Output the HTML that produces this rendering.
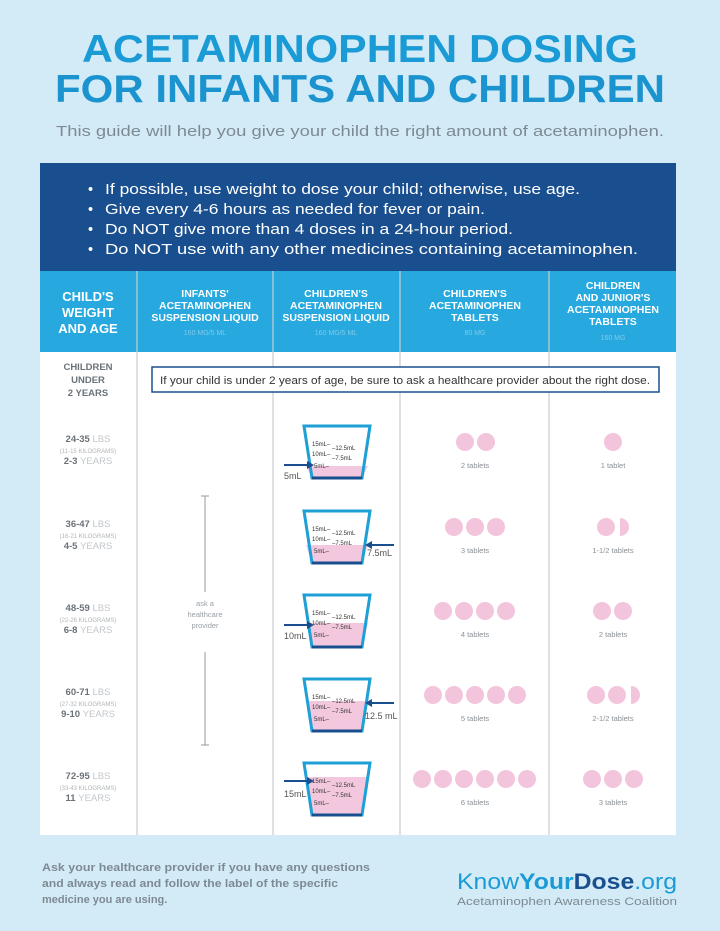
<!DOCTYPE html>
<html><head><meta charset="utf-8"><style>
html,body{margin:0;padding:0;background:#d3ebf7;}
svg{display:block;font-family:"Liberation Sans",sans-serif;}
</style></head><body>
<svg width="720" height="931" viewBox="0 0 720 931" xmlns="http://www.w3.org/2000/svg">
<rect width="720" height="931" fill="#d3ebf7"/>
<text x="360" y="62" text-anchor="middle" font-size="39" font-weight="bold" fill="#1b9bd5" textLength="556" lengthAdjust="spacingAndGlyphs">ACETAMINOPHEN DOSING</text>
<text x="360" y="102" text-anchor="middle" font-size="39" font-weight="bold" fill="#1b93cf" textLength="610" lengthAdjust="spacingAndGlyphs">FOR INFANTS AND CHILDREN</text>
<text x="360" y="136" text-anchor="middle" font-size="15" fill="#7d8a93" textLength="608" lengthAdjust="spacingAndGlyphs">This guide will help you give your child the right amount of acetaminophen.</text>
<rect x="40" y="163" width="636" height="108" fill="#1a4f8f"/>
<g fill="#fff" font-size="14.5">
<text x="88" y="194">•</text><text x="105" y="194" textLength="475" lengthAdjust="spacingAndGlyphs">If possible, use weight to dose your child; otherwise, use age.</text>
<text x="88" y="214">•</text><text x="105" y="214" textLength="380" lengthAdjust="spacingAndGlyphs">Give every 4-6 hours as needed for fever or pain.</text>
<text x="88" y="234">•</text><text x="105" y="234" textLength="408" lengthAdjust="spacingAndGlyphs">Do NOT give more than 4 doses in a 24-hour period.</text>
<text x="88" y="254">•</text><text x="105" y="254" textLength="533" lengthAdjust="spacingAndGlyphs">Do NOT use with any other medicines containing acetaminophen.</text>
</g>
<rect x="40" y="271" width="636" height="81" fill="#27a8de"/>
<rect x="40" y="352" width="636" height="483" fill="#fff"/>
<g stroke="#c9cdd0" stroke-width="1.2">
<line x1="137" y1="271" x2="137" y2="835"/><line x1="273" y1="271" x2="273" y2="835"/>
<line x1="400" y1="271" x2="400" y2="835"/><line x1="549" y1="271" x2="549" y2="835"/>
</g>
<g fill="#fff" font-weight="bold" text-anchor="middle">
<text x="88" y="301" font-size="13">CHILD'S</text><text x="88" y="317" font-size="13">WEIGHT</text><text x="88" y="333" font-size="13">AND AGE</text>
<text x="205" y="297" font-size="10.5">INFANTS'</text><text x="205" y="309" font-size="10.5">ACETAMINOPHEN</text><text x="205" y="321" font-size="10.5">SUSPENSION LIQUID</text>
<text x="336" y="297" font-size="10.5">CHILDREN'S</text><text x="336" y="309" font-size="10.5">ACETAMINOPHEN</text><text x="336" y="321" font-size="10.5">SUSPENSION LIQUID</text>
<text x="475" y="297" font-size="10.5">CHILDREN'S</text><text x="475" y="309" font-size="10.5">ACETAMINOPHEN</text><text x="475" y="321" font-size="10.5">TABLETS</text>
<text x="613" y="289" font-size="10.5">CHILDREN</text><text x="613" y="301" font-size="10.5">AND JUNIOR'S</text><text x="613" y="313" font-size="10.5">ACETAMINOPHEN</text><text x="613" y="325" font-size="10.5">TABLETS</text>
</g>
<g fill="#7fcbec" font-size="7" text-anchor="middle">
<text x="205" y="335">160 MG/5 ML</text><text x="336" y="335">160 MG/5 ML</text><text x="475" y="335">80 MG</text><text x="613" y="340">160 MG</text>
</g>
<g fill="#6b7278" font-size="9.5" font-weight="bold" text-anchor="middle">
<text x="88" y="370">CHILDREN</text><text x="88" y="383">UNDER</text><text x="88" y="396">2 YEARS</text>
</g>
<rect x="152" y="367" width="507" height="25" fill="#fff" stroke="#1a4f8f" stroke-width="1.5"/>
<text x="405" y="384" text-anchor="middle" font-size="11" fill="#333" textLength="490" lengthAdjust="spacingAndGlyphs">If your child is under 2 years of age, be sure to ask a healthcare provider about the right dose.</text>
<line x1="205" y1="496" x2="205" y2="592" stroke="#999"/><line x1="201" y1="496" x2="209" y2="496" stroke="#999"/>
<line x1="205" y1="652" x2="205" y2="745" stroke="#999"/><line x1="201" y1="745" x2="209" y2="745" stroke="#999"/>
<g fill="#9aa0a5" font-size="7.5" text-anchor="middle"><text x="205" y="606">ask a</text><text x="205" y="617">healthcare</text><text x="205" y="628">provider</text></g>
<g font-size="9.5" text-anchor="middle">
<g transform="translate(0,452)"><text x="88" y="-10" fill="#6b7278" font-weight="bold">24-35 <tspan fill="#c2c7cb" font-weight="normal">LBS</tspan></text><text x="88" y="1" font-size="6" fill="#b0b5b9">(11-15 KILOGRAMS)</text><text x="88" y="12" fill="#6b7278" font-weight="bold">2-3 <tspan fill="#c2c7cb" font-weight="normal">YEARS</tspan></text></g>
<g transform="translate(0,537)"><text x="88" y="-10" fill="#6b7278" font-weight="bold">36-47 <tspan fill="#c2c7cb" font-weight="normal">LBS</tspan></text><text x="88" y="1" font-size="6" fill="#b0b5b9">(16-21 KILOGRAMS)</text><text x="88" y="12" fill="#6b7278" font-weight="bold">4-5 <tspan fill="#c2c7cb" font-weight="normal">YEARS</tspan></text></g>
<g transform="translate(0,621)"><text x="88" y="-10" fill="#6b7278" font-weight="bold">48-59 <tspan fill="#c2c7cb" font-weight="normal">LBS</tspan></text><text x="88" y="1" font-size="6" fill="#b0b5b9">(22-26 KILOGRAMS)</text><text x="88" y="12" fill="#6b7278" font-weight="bold">6-8 <tspan fill="#c2c7cb" font-weight="normal">YEARS</tspan></text></g>
<g transform="translate(0,705)"><text x="88" y="-10" fill="#6b7278" font-weight="bold">60-71 <tspan fill="#c2c7cb" font-weight="normal">LBS</tspan></text><text x="88" y="1" font-size="6" fill="#b0b5b9">(27-32 KILOGRAMS)</text><text x="88" y="12" fill="#6b7278" font-weight="bold">9-10 <tspan fill="#c2c7cb" font-weight="normal">YEARS</tspan></text></g>
<g transform="translate(0,789)"><text x="88" y="-10" fill="#6b7278" font-weight="bold">72-95 <tspan fill="#c2c7cb" font-weight="normal">LBS</tspan></text><text x="88" y="1" font-size="6" fill="#b0b5b9">(33-43 KILOGRAMS)</text><text x="88" y="12" fill="#6b7278" font-weight="bold">11 <tspan fill="#c2c7cb" font-weight="normal">YEARS</tspan></text></g>
</g>
<g font-size="6" fill="#333">
<g transform="translate(304,426)"><path d="M2,40 L64,40 L58,52 L8,52Z" fill="#f3c8de"/><path d="M0,0 L66,0 L58,52 L8,52 Z" fill="none" stroke="#1e9fd6" stroke-width="3"/><path d="M8,52 L58,52" stroke="#1a4f8f" stroke-width="3"/><text x="8" y="20">15mL–</text><text x="28" y="24">–12.5mL</text><text x="8" y="30">10mL–</text><text x="28" y="34">–7.5mL</text><text x="10" y="42">5mL–</text></g>
<g transform="translate(304,511)"><path d="M2,34 L64,34 L58,52 L8,52Z" fill="#f3c8de"/><path d="M0,0 L66,0 L58,52 L8,52 Z" fill="none" stroke="#1e9fd6" stroke-width="3"/><path d="M8,52 L58,52" stroke="#1a4f8f" stroke-width="3"/><text x="8" y="20">15mL–</text><text x="28" y="24">–12.5mL</text><text x="8" y="30">10mL–</text><text x="28" y="34">–7.5mL</text><text x="10" y="42">5mL–</text></g>
<g transform="translate(304,595)"><path d="M2,28 L64,28 L58,52 L8,52Z" fill="#f3c8de"/><path d="M0,0 L66,0 L58,52 L8,52 Z" fill="none" stroke="#1e9fd6" stroke-width="3"/><path d="M8,52 L58,52" stroke="#1a4f8f" stroke-width="3"/><text x="8" y="20">15mL–</text><text x="28" y="24">–12.5mL</text><text x="8" y="30">10mL–</text><text x="28" y="34">–7.5mL</text><text x="10" y="42">5mL–</text></g>
<g transform="translate(304,679)"><path d="M2,22 L64,22 L58,52 L8,52Z" fill="#f3c8de"/><path d="M0,0 L66,0 L58,52 L8,52 Z" fill="none" stroke="#1e9fd6" stroke-width="3"/><path d="M8,52 L58,52" stroke="#1a4f8f" stroke-width="3"/><text x="8" y="20">15mL–</text><text x="28" y="24">–12.5mL</text><text x="8" y="30">10mL–</text><text x="28" y="34">–7.5mL</text><text x="10" y="42">5mL–</text></g>
<g transform="translate(304,763)"><path d="M1,14 L65,14 L58,52 L8,52Z" fill="#f3c8de"/><path d="M0,0 L66,0 L58,52 L8,52 Z" fill="none" stroke="#1e9fd6" stroke-width="3"/><path d="M8,52 L58,52" stroke="#1a4f8f" stroke-width="3"/><text x="8" y="20">15mL–</text><text x="28" y="24">–12.5mL</text><text x="8" y="30">10mL–</text><text x="28" y="34">–7.5mL</text><text x="10" y="42">5mL–</text></g>
</g>
<g stroke="#1a4f8f" stroke-width="2" fill="#1a4f8f">
<line x1="284" y1="465" x2="310" y2="465"/><path d="M314,465 L307,461 L307,469Z" stroke="none"/>
<line x1="394" y1="545" x2="370" y2="545"/><path d="M365,545 L372,541 L372,549Z" stroke="none"/>
<line x1="284" y1="625" x2="310" y2="625"/><path d="M314,625 L307,621 L307,629Z" stroke="none"/>
<line x1="394" y1="703" x2="370" y2="703"/><path d="M365,703 L372,699 L372,707Z" stroke="none"/>
<line x1="284" y1="781" x2="310" y2="781"/><path d="M314,781 L307,777 L307,785Z" stroke="none"/>
</g>
<g font-size="9" fill="#555">
<text x="284" y="479">5mL</text><text x="367" y="556">7.5mL</text><text x="284" y="639">10mL</text><text x="365" y="719">12.5 mL</text><text x="284" y="797">15mL</text>
</g>
<g fill="#f3c5dc">
<circle cx="465" cy="442" r="9"/><circle cx="486" cy="442" r="9"/>
<circle cx="454" cy="527" r="9"/><circle cx="475" cy="527" r="9"/><circle cx="496" cy="527" r="9"/>
<circle cx="443" cy="611" r="9"/><circle cx="464" cy="611" r="9"/><circle cx="485" cy="611" r="9"/><circle cx="506" cy="611" r="9"/>
<circle cx="433" cy="695" r="9"/><circle cx="454" cy="695" r="9"/><circle cx="475" cy="695" r="9"/><circle cx="496" cy="695" r="9"/><circle cx="517" cy="695" r="9"/>
<circle cx="422" cy="779" r="9"/><circle cx="443" cy="779" r="9"/><circle cx="464" cy="779" r="9"/><circle cx="485" cy="779" r="9"/><circle cx="506" cy="779" r="9"/><circle cx="527" cy="779" r="9"/>
<circle cx="613" cy="442" r="9"/>
<circle cx="606" cy="527" r="9"/><path d="M620,518 A9,9 0 0,1 620,536Z"/>
<circle cx="602" cy="611" r="9"/><circle cx="623" cy="611" r="9"/>
<circle cx="596" cy="695" r="9"/><circle cx="617" cy="695" r="9"/><path d="M631,686 A9,9 0 0,1 631,704Z"/>
<circle cx="592" cy="779" r="9"/><circle cx="613" cy="779" r="9"/><circle cx="634" cy="779" r="9"/>
</g>
<g font-size="7.5" fill="#8a9095" text-anchor="middle">
<text x="475" y="468">2 tablets</text><text x="475" y="553">3 tablets</text><text x="475" y="637">4 tablets</text><text x="475" y="721">5 tablets</text><text x="475" y="805">6 tablets</text>
<text x="613" y="468">1 tablet</text><text x="613" y="553">1-1/2 tablets</text><text x="613" y="637">2 tablets</text><text x="613" y="721">2-1/2 tablets</text><text x="613" y="805">3 tablets</text>
</g>
<g font-size="11" fill="#7d8a93" font-weight="bold">
<text x="42" y="871" textLength="328" lengthAdjust="spacingAndGlyphs">Ask your healthcare provider if you have any questions</text>
<text x="42" y="887" textLength="296" lengthAdjust="spacingAndGlyphs">and always read and follow the label of the specific</text>
<text x="42" y="903">medicine you are using.</text>
</g>
<text x="457" y="889" font-size="22" fill="#1b9bd5" textLength="220" lengthAdjust="spacingAndGlyphs">Know<tspan font-weight="bold">Your</tspan><tspan font-weight="bold" fill="#1a4f8f">Dose</tspan>.org</text>
<text x="457" y="905" font-size="11" fill="#7d8a93" textLength="220" lengthAdjust="spacingAndGlyphs">Acetaminophen Awareness Coalition</text>
</svg>
</body></html>
